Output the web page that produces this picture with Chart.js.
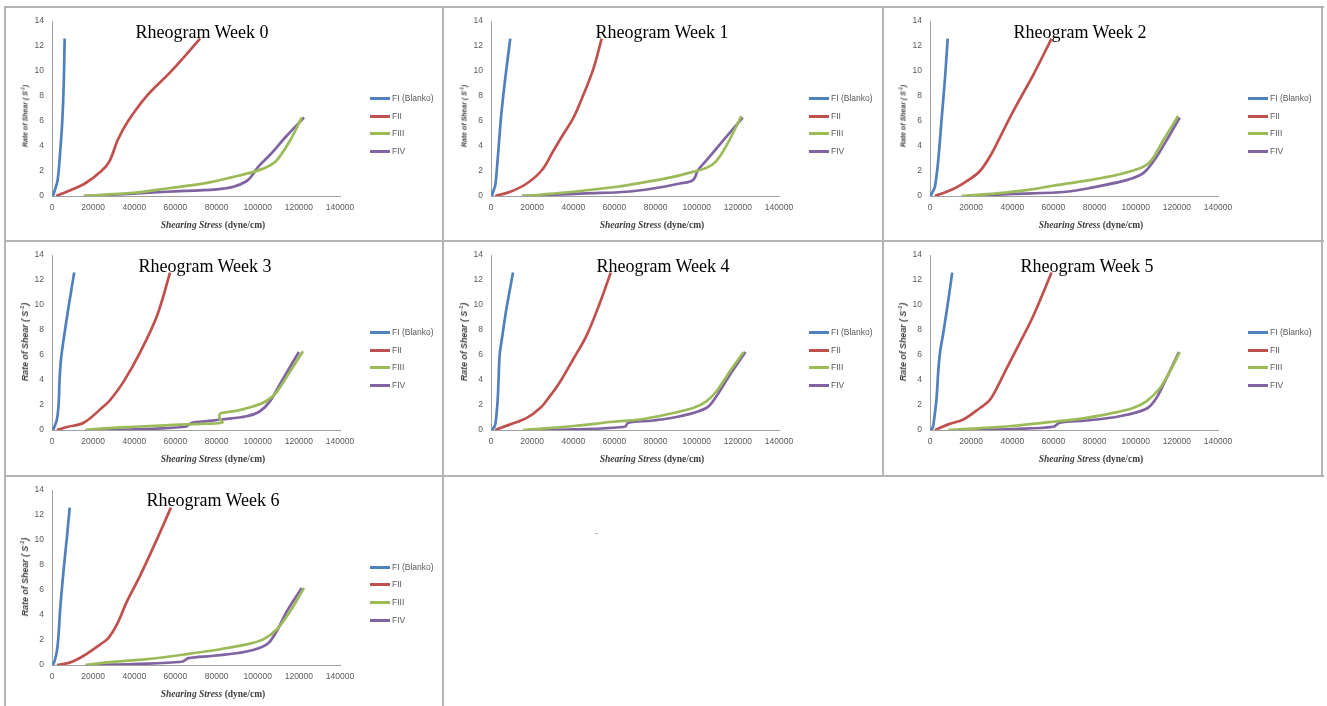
<!DOCTYPE html>
<html>
<head>
<meta charset="utf-8">
<script src="https://cdn.jsdelivr.net/npm/chart.js@4.4.1/dist/chart.umd.min.js"></script>
<style>
  html, body { margin:0; padding:0; background:#fff; }
  body { width:1327px; height:706px; position:relative; overflow:hidden; }
  .ln { position:absolute; background:#b4b4b4; }
  canvas { position:absolute; }
  .ttl { position:absolute; font-family:"Liberation Serif", serif; font-size:18px; color:#000; white-space:nowrap; line-height:18px; transform:translateX(-50%); }
  .xt { position:absolute; font-family:"Liberation Serif", serif; font-weight:bold; font-size:9.5px; color:#404040; white-space:nowrap; line-height:10px; transform:translateX(-50%); }
  .yt { position:absolute; font-family:"Liberation Sans", sans-serif; font-weight:bold; font-style:italic; color:#404040; white-space:nowrap; transform:translate(-50%,-50%) rotate(-90deg); }
  .yt sup { font-size:65%; vertical-align:top; position:relative; top:-0.2em; }
  .lg { position:absolute; font-family:"Liberation Sans", sans-serif; font-size:8.5px; color:#595959; white-space:nowrap; line-height:10px; }
  .lgline { position:absolute; height:3px; }
  .dash { position:absolute; font-family:"Liberation Sans", sans-serif; font-size:9px; color:#888; }
</style>
</head>
<body>
<script>
// ---------- labels ----------
const WEEK_TITLES = ["Rheogram Week 0","Rheogram Week 1","Rheogram Week 2","Rheogram Week 3","Rheogram Week 4","Rheogram Week 5","Rheogram Week 6"];
const SERIES_NAMES = ["FI (Blanko)","FII","FIII","FIV"];
const X_TICKS = [0,20000,40000,60000,80000,100000,120000,140000];
const Y_TICKS = [0,2,4,6,8,10,12,14];

// ---------- data: [shearing stress, rate of shear] ----------
const wk0_FI   = [[500,0],[1600,0.6],[2750,1.27],[4000,3.6],[5000,6.0],[5700,8.9],[6150,12.6]];
const wk0_FII  = [[2000,0],[8000,0.4],[16000,1.0],[24000,2.0],[28000,2.8],[32000,4.5],[37000,6.0],[46000,8.0],[58000,10.0],[72000,12.6]];
const wk0_FIII = [[15400,0],[25000,0.1],[39600,0.26],[55800,0.6],[75200,1.05],[88200,1.53],[97900,1.93],[104400,2.32],[109200,2.85],[115700,4.43],[121400,6.28]];
const wk0_FIV  = [[15400,0],[35000,0.15],[55800,0.34],[80100,0.53],[88200,0.74],[94700,1.2],[97500,1.7],[100000,2.3],[106000,3.3],[114000,4.8],[122500,6.28]];

const wk1_FI   = [[500,0],[1300,0.47],[2100,0.87],[3200,2.85],[4200,4.96],[5000,6.54],[6950,9.45],[9370,12.6]];
const wk1_FII  = [[2100,0],[9400,0.34],[17400,1.0],[24700,2.06],[30400,3.64],[35200,4.96],[40100,6.28],[44900,8.1],[49800,10.2],[53800,12.6]];
const wk1_FIII = [[15000,0],[25000,0.12],[40000,0.34],[61100,0.74],[75600,1.13],[88500,1.53],[98200,1.93],[104700,2.25],[109500,2.8],[115000,4.2],[121700,6.4]];
const wk1_FIV  = [[15000,0],[30000,0.1],[46000,0.21],[65900,0.34],[78800,0.6],[91800,1.0],[98200,1.27],[100600,2.06],[104700,2.85],[112800,4.43],[122400,6.28]];

const wk2_FI   = [[300,0],[1300,0.34],[2400,0.74],[4000,2.85],[5700,6.28],[7300,9.45],[8600,12.6]];
const wk2_FII  = [[2400,0],[8100,0.34],[12900,0.69],[18600,1.27],[24300,2.0],[29900,3.38],[34000,4.7],[40500,6.8],[50200,9.7],[59100,12.6]];
const wk2_FIII = [[15400,0],[32400,0.21],[46900,0.47],[61500,0.87],[77700,1.27],[92200,1.74],[103500,2.32],[107600,2.85],[113300,4.43],[120600,6.4]];
const wk2_FIV  = [[18600,0],[40500,0.16],[66300,0.34],[79300,0.69],[95500,1.27],[102000,1.66],[105200,2.06],[110000,3.1],[114900,4.43],[121400,6.28]];

const wk3_FI   = [[500,0],[1300,0.32],[2400,0.84],[3200,2.0],[3700,4.1],[4400,5.7],[5700,7.3],[8100,9.9],[10800,12.6]];
const wk3_FII  = [[2400,0],[7300,0.24],[15400,0.58],[25100,1.9],[28300,2.4],[34800,3.87],[42900,6.24],[51000,9.13],[57400,12.6]];
const wk3_FIII = [[16200,0],[25000,0.13],[40000,0.26],[55000,0.37],[65000,0.45],[75000,0.5],[82800,0.6],[81500,0.9],[81700,1.3],[84000,1.4],[90000,1.55],[98000,1.9],[104000,2.3],[109000,3.0],[115000,4.5],[122000,6.3]];
const wk3_FIV  = [[21000,0],[39600,0.05],[64700,0.26],[68000,0.58],[75200,0.71],[82500,0.84],[94600,1.1],[101100,1.5],[105900,2.29],[112400,4.13],[120000,6.24]];

const wk4_FI   = [[500,0],[1300,0.18],[2100,0.45],[3200,2.3],[3700,4.1],[4200,6.0],[5300,7.3],[7700,9.9],[10700,12.6]];
const wk4_FII  = [[2100,0],[9400,0.45],[17400,0.97],[23900,1.76],[27900,2.55],[33600,3.87],[40100,5.7],[46500,7.58],[53000,10.2],[58200,12.6]];
const wk4_FIII = [[15500,0],[23900,0.1],[40100,0.32],[59500,0.66],[72400,0.84],[85300,1.24],[98200,1.76],[104700,2.29],[109500,3.08],[116000,4.66],[122800,6.24]];
const wk4_FIV  = [[18300,0],[40100,0.05],[65100,0.26],[66700,0.58],[78800,0.76],[91800,1.1],[104700,1.76],[109500,2.68],[116000,4.39],[123700,6.24]];

const wk5_FI   = [[300,0],[1300,0.18],[2100,0.97],[3200,2.55],[4000,4.66],[4900,6.24],[6500,7.8],[8900,10.4],[10800,12.6]];
const wk5_FII  = [[2400,0],[8900,0.45],[16200,0.84],[24300,1.76],[29100,2.42],[32400,3.34],[37200,4.92],[43700,7.0],[50200,9.13],[59100,12.6]];
const wk5_FIII = [[8900,0],[23500,0.13],[39700,0.32],[59900,0.66],[76100,0.97],[89000,1.37],[98700,1.76],[105200,2.29],[111700,3.34],[116500,4.66],[121400,6.24]];
const wk5_FIV  = [[21800,0],[40500,0.08],[59900,0.26],[63100,0.58],[76100,0.76],[92200,1.1],[105200,1.7],[110000,2.55],[114900,4.13],[121000,6.24]];

const wk6_FI   = [[500,0],[1300,0.34],[2400,1.13],[3200,2.44],[4000,4.54],[5700,7.7],[7300,10.3],[8600,12.6]];
const wk6_FII  = [[2400,0],[8900,0.21],[15400,0.74],[23500,1.65],[27500,2.18],[31500,3.23],[36400,5.07],[42900,7.17],[51000,10.06],[57800,12.6]];
const wk6_FIII = [[16200,0],[26700,0.21],[46100,0.47],[65500,0.87],[81700,1.26],[94600,1.65],[102700,2.05],[109200,2.84],[115700,4.28],[122500,6.17]];
const wk6_FIV  = [[21800,0],[39600,0.08],[63100,0.26],[66300,0.55],[78500,0.74],[94600,1.08],[104400,1.65],[109200,2.7],[114100,4.28],[121400,6.17]];

const WEEKS = [
  [wk0_FI, wk0_FII, wk0_FIII, wk0_FIV],
  [wk1_FI, wk1_FII, wk1_FIII, wk1_FIV],
  [wk2_FI, wk2_FII, wk2_FIII, wk2_FIV],
  [wk3_FI, wk3_FII, wk3_FIII, wk3_FIV],
  [wk4_FI, wk4_FII, wk4_FIII, wk4_FIV],
  [wk5_FI, wk5_FII, wk5_FIII, wk5_FIV],
  [wk6_FI, wk6_FII, wk6_FIII, wk6_FIV]
];

// ---------- styles / layout ----------
const COLORS = ["#4F81BD","#C0504D","#9BBB59","#8064A2"];
const PLOT_LEFT = [52, 491, 930];
const PLOT_TOP = [19, 253, 487.5];
const PLOT_W = 288, PLOT_H = 177;
const TITLE_DX = [150, 171, 150, 153, 172, 157, 161];
const YT_FONT = [7, 8.8, 8.8];
const YT_DY = [97, 89, 89];
const BORDERS = [
  [5,6,1319,2],[5,240,1319,2],[5,475,1319,2],
  [4,6,2,700],[442,6,2,700],[882,6,2,470],[1321,6,2,471]
];

function el(tag, cls, css, html) {
  const e = document.createElement(tag);
  if (cls) e.className = cls;
  Object.assign(e.style, css || {});
  if (html !== undefined) e.innerHTML = html;
  document.body.appendChild(e);
  return e;
}

BORDERS.forEach(b => el('div','ln',{left:b[0]+'px',top:b[1]+'px',width:b[2]+'px',height:b[3]+'px'}));
el('div','dash',{left:'595px',top:'528px'},'-');

const AXIS_COLOR = '#a0a0a0';
const TICK_FONT = {family:'"Liberation Sans", sans-serif', size:8.5};

WEEKS.forEach((series, i) => {
  const col = i % 3, row = Math.floor(i / 3);
  const pl = PLOT_LEFT[col], pt = PLOT_TOP[row];
  const cw = 436, ch = 232;
  const cv = document.createElement('canvas');
  cv.width = cw; cv.height = ch;
  cv.style.left = (pl - 46) + 'px';
  cv.style.top = (pt - 11) + 'px';
  cv.style.width = cw + 'px'; cv.style.height = ch + 'px';
  document.body.appendChild(cv);

  new Chart(cv.getContext('2d'), {
    type: 'scatter',
    data: {
      datasets: series.map((pts, k) => ({
        label: SERIES_NAMES[k],
        data: pts.map(p => ({x:p[0], y:p[1]})),
        showLine: true,
        borderColor: COLORS[k],
        backgroundColor: COLORS[k],
        borderWidth: 2.7,
        pointRadius: 0,
        pointHoverRadius: 0,
        tension: 0.35,
        order: k
      }))
    },
    options: {
      responsive: false,
      animation: false,
      devicePixelRatio: 1,
      layout: { padding: { left: 0, top: 11, right: cw - 46 - PLOT_W, bottom: 0 } },
      plugins: { legend: { display: false }, tooltip: { enabled: false }, title: { display: false } },
      scales: {
        x: {
          type: 'linear', min: 0, max: 140000,
          grid: { display: false, drawTicks: false },
          border: { display: true, color: AXIS_COLOR, width: 1 },
          ticks: { padding: 7, font: TICK_FONT, color: '#595959', maxRotation: 0, minRotation: 0, autoSkip: false,
                   callback: v => String(v) },
          afterBuildTicks: s => { s.ticks = X_TICKS.map(v => ({value: v})); },
          afterFit: s => { s.height = ch - 11 - PLOT_H; }
        },
        y: {
          type: 'linear', min: 0, max: 14,
          grid: { display: false, drawTicks: false },
          border: { display: true, color: AXIS_COLOR, width: 1 },
          ticks: { padding: 8, font: TICK_FONT, color: '#595959', autoSkip: false, callback: v => String(v) },
          afterBuildTicks: s => { s.ticks = Y_TICKS.map(v => ({value: v})); },
          afterFit: s => { s.width = 46; }
        }
      }
    }
  });

  // title (overlaid on the plot, like the original)
  el('div','ttl',{left:(pl + TITLE_DX[i])+'px', top:(pt + 18.3 - 14.5)+'px'}, WEEK_TITLES[i]);
  // x-axis title
  el('div','xt',{left:(pl + 161)+'px', top:(pt + PLOT_H + 32 - 8)+'px'},
     '<i>Shearing Stress</i> (dyne/cm)');
  // y-axis title
  el('div','yt',{left:(pl - 27)+'px', top:(pt + YT_DY[row])+'px', fontSize: YT_FONT[row]+'px'},
     'Rate of Shear ( S<sup>-1</sup>)');
  // legend
  SERIES_NAMES.forEach((name, k) => {
    const cy = Math.round(pt + 79 + k * 17.7);
    el('div','lgline',{left:Math.round(pl + 318)+'px', top:(cy - 1)+'px', width:'20px', background: COLORS[k]});
    el('div','lg',{left:Math.round(pl + 340)+'px', top:(cy - 5)+'px'}, name);
  });
});
</script>
</body>
</html>
